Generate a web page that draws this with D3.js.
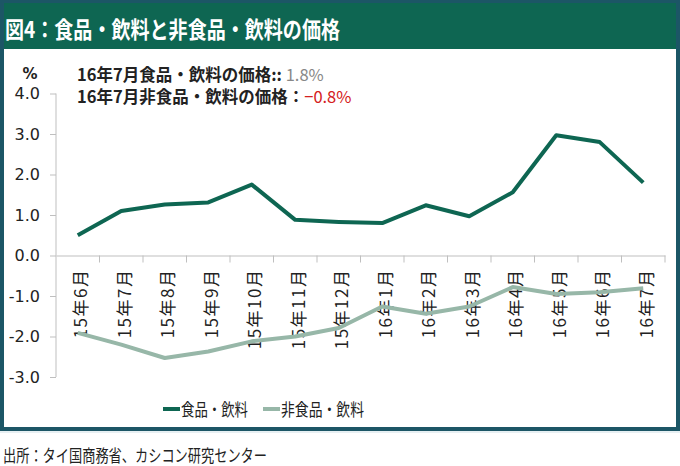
<!DOCTYPE html>
<html><head><meta charset="utf-8">
<script src="https://cdn.jsdelivr.net/npm/d3@7"></script>
<style>
html,body{margin:0;padding:0;background:#fff;}
svg{display:block;}
</style></head>
<body>
<svg id="chart" width="680" height="466"></svg>
<script>
const categories = ["15年6月","15年7月","15年8月","15年9月","15年10月","15年11月","15年12月","16年1月","16年2月","16年3月","16年4月","16年5月","16年6月","16年7月"];
const foodValues = [0.5,1.1,1.26,1.31,1.75,0.88,0.83,0.8,1.24,0.97,1.56,2.97,2.8,1.8];
const nonFoodValues = [-1.91,-2.2,-2.53,-2.37,-2.12,-2.0,-1.79,-1.26,-1.44,-1.26,-0.78,-0.95,-0.91,-0.81];
const yTicks = [-3,-2,-1,0,1,2,3,4];
const seriesNames = ["食品・飲料","非食品・飲料"];
const titleText = "図4：食品・飲料と非食品・飲料の価格";
const sourceText = "出所：タイ国商務省、カシコン研究センター";
const noteLabels = ["16年7月食品・飲料の価格:: ","16年7月非食品・飲料の価格："];
const noteValues = ["1.8%","−0.8%"];

const svg = d3.select("#chart");
const frameColor = "#1c5666", titleBg = "#0e6652";
const foodColor = "#0e6652", nonFoodColor = "#97b7a8", axisColor = "#bfbfbf";
const jp = "'Noto Sans CJK JP','Noto Sans',sans-serif";

// frame
svg.append("rect").attr("x",0).attr("y",0).attr("width",680).attr("height",431).attr("fill",frameColor);
svg.append("rect").attr("x",4).attr("y",3).attr("width",672).attr("height",424).attr("fill","#fff");
svg.append("rect").attr("x",4).attr("y",3).attr("width",672).attr("height",46).attr("fill",titleBg);
svg.append("line").attr("x1",0).attr("x2",680).attr("y1",432).attr("y2",432).attr("stroke","#cfe0e6").attr("stroke-width",1);

svg.append("text").attr("x",5).attr("y",38).attr("fill","#fff")
  .attr("font-family",jp).attr("font-size",23).attr("font-weight","bold")
  .attr("textLength",335).attr("lengthAdjust","spacingAndGlyphs").text(titleText);

const x = d3.scaleBand().domain(categories).range([56,665]).padding(0);
const y = d3.scaleLinear().domain([-3,4]).range([377,93.5]);
const cx = d => x(d) + x.bandwidth()/2;

// y axis
const yAxis = svg.append("g").attr("transform","translate(56,0)")
  .call(d3.axisLeft(y).tickValues(yTicks).tickSize(6).tickPadding(10).tickFormat(d=>d.toFixed(1)));
yAxis.select(".domain").attr("stroke",axisColor).attr("d","M0,"+y(4)+"V"+y(-3));
yAxis.selectAll(".tick line").attr("stroke",axisColor);
yAxis.selectAll("text").attr("font-family","'DejaVu Sans',sans-serif").attr("font-size",16).attr("fill","#222");

svg.append("text").attr("x",30).attr("y",79).attr("text-anchor","middle")
  .attr("font-family","'DejaVu Sans',sans-serif").attr("font-size",15).attr("font-weight","bold").attr("fill","#222").text("%");

// x axis at zero
const x0 = y(0);
const xAxis = svg.append("g").attr("transform","translate(0,"+x0+")")
  .call(d3.axisBottom(x).tickSize(0).tickPadding(0));
xAxis.select(".domain").attr("stroke",axisColor);
xAxis.selectAll(".tick text")
  .attr("font-family",jp).attr("font-size",17).attr("fill","#222")
  .attr("letter-spacing","1.5px")
  .attr("text-anchor","end").attr("dominant-baseline","central")
  .attr("transform","translate(2,13) rotate(-90)").attr("x",0).attr("y",0).attr("dy",null);
const boundaries = categories.slice(1).map(c=>x(c)).concat([x.range()[1]]);
svg.append("g").selectAll("line").data(boundaries).join("line")
  .attr("x1",d=>d).attr("x2",d=>d).attr("y1",x0).attr("y2",x0+7).attr("stroke",axisColor);

// lines
const line = d3.line().x((d,i)=>cx(categories[i])).y(d=>y(d));
svg.append("path").datum(nonFoodValues).attr("d",line).attr("fill","none")
  .attr("stroke",nonFoodColor).attr("stroke-width",4).attr("stroke-linejoin","round");
svg.append("path").datum(foodValues).attr("d",line).attr("fill","none")
  .attr("stroke",foodColor).attr("stroke-width",4).attr("stroke-linejoin","round");

// annotations
const noteColors = ["#888","#d42020"];
noteLabels.forEach((lab,i)=>{
  const t = svg.append("text").attr("x",77).attr("y",81+i*22).attr("font-family",jp).attr("font-size",16.5);
  t.append("tspan").attr("font-weight","bold").attr("fill","#222").text(lab);
  t.append("tspan").attr("fill",noteColors[i]).text(noteValues[i]);
});

// legend
const legend = [{name:seriesNames[0],color:foodColor,x:163},{name:seriesNames[1],color:nonFoodColor,x:263}];
legend.forEach(l=>{
  svg.append("line").attr("x1",l.x).attr("x2",l.x+17).attr("y1",409).attr("y2",409).attr("stroke",l.color).attr("stroke-width",4);
  svg.append("text").attr("x",l.x+18).attr("y",416).attr("font-family",jp).attr("font-size",17).attr("fill","#222")
    .attr("textLength", l.name.length===5?67:83).attr("lengthAdjust","spacingAndGlyphs").text(l.name);
});

// source
svg.append("text").attr("x",3).attr("y",462).attr("font-family",jp).attr("font-size",17).attr("fill","#222")
  .attr("textLength",264).attr("lengthAdjust","spacingAndGlyphs").text(sourceText);
</script>
</body></html>
